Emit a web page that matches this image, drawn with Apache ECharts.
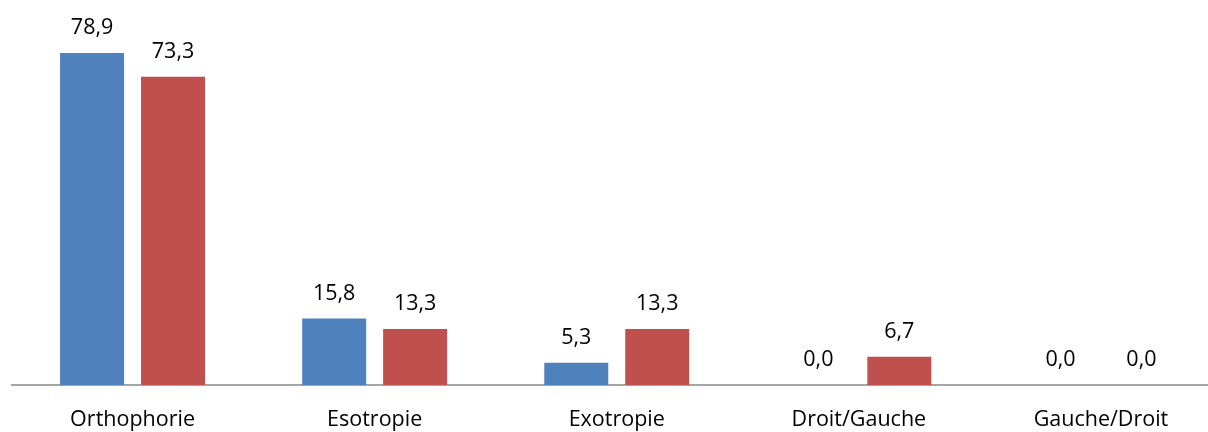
<!DOCTYPE html>
<html>
<head>
<meta charset="utf-8">
<script src="https://cdn.jsdelivr.net/npm/echarts@6/dist/echarts.min.js"></script>
<style>
  html, body { margin: 0; padding: 0; background: #fff; overflow: hidden; }
  /* the plot runs a little past the right edge of the window */
  #chart { width: 1222px; height: 432px; }
</style>
</head>
<body>
<div id="chart"></div>
<script>
// Strabisme : répartition par groupe (%)
const categories = ['Orthophorie', 'Esotropie', 'Exotropie', 'Droit/Gauche', 'Gauche/Droit'];
const serieA = [78.9, 15.8, 5.3, 0.0, 0.0];
const serieB = [73.3, 13.3, 13.3, 6.7, 0.0];

const fontFamily = '"Open Sans", sans-serif';
const fmt = p => p.value.toFixed(1).replace('.', ',');

const labelStyle = {
  show: true,
  position: 'top',
  distance: 14,
  formatter: fmt,
  color: '#000',
  fontFamily: fontFamily,
  fontSize: 21.5
};

const chart = echarts.init(document.getElementById('chart'), null, { renderer: 'canvas' });
chart.setOption({
  animation: false,
  grid: { left: 11.5, top: 6.4, right: 0, height: 378.6, containLabel: false },
  xAxis: {
    type: 'category',
    data: categories,
    axisLine: { lineStyle: { color: '#888', width: 1.5 } },
    axisTick: { show: false },
    axisLabel: { color: '#000', fontFamily: fontFamily, fontSize: 21.5, margin: 24 }
  },
  yAxis: {
    type: 'value',
    min: 0,
    max: 90,
    show: false,
    splitLine: { show: false }
  },
  series: [
    {
      type: 'bar',
      data: serieA,
      barWidth: 64,
      barGap: '26.5%',
      itemStyle: { color: '#4F81BD' },
      label: labelStyle
    },
    {
      type: 'bar',
      data: serieB,
      barWidth: 64,
      itemStyle: { color: '#C0504D' },
      label: labelStyle
    }
  ]
});
</script>
</body>
</html>
